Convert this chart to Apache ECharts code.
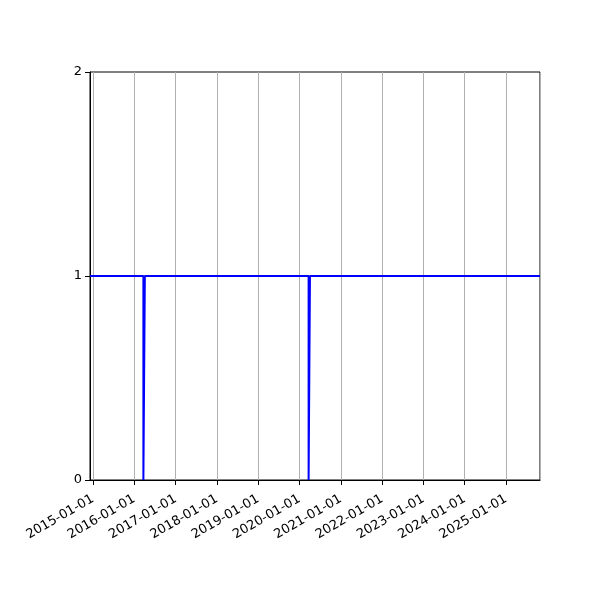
<!DOCTYPE html>
<html lang="en">
<head>
    <meta charset="UTF-8">
    <title></title>
    <script src="https://cdn.jsdelivr.net/npm/echarts@6/dist/echarts.min.js"></script>
    <style>
        html, body { margin: 0; padding: 0; background: #fff; }
        #main { width: 600px; height: 600px; }
    </style>
</head>
<body>
    <div id="main"></div>
    <script type="text/javascript">
        // data
        var dates = ['2014-12-06', '2016-03-22', '2016-03-22', '2016-04-04', '2016-04-04',
                     '2020-03-22', '2020-03-22', '2020-04-03', '2020-04-03', '2025-10-28'];
        var values = [1, 1, 0, 0, 1, 1, 0, 0, 1, 1];
        var yTicks = [0, 1, 2];
        var xMin = '2014-12-06';
        var xMax = '2025-10-28';

        var points = dates.map(function (d, i) { return [d, values[i]]; });

        var myChart = echarts.init(document.getElementById('main'));
        var option = {
            animation: false,
            grid: {
                left: 90, right: 60, top: 72, bottom: 120,
                show: true, borderColor: '#000', borderWidth: 1
            },
            xAxis: {
                type: 'time',
                min: xMin,
                max: xMax,
                splitNumber: 11,
                axisLine: { lineStyle: { color: '#000', width: 1 } },
                axisTick: { show: true, length: 5, lineStyle: { color: '#000' } },
                minorTick: { show: false },
                splitLine: { show: true, lineStyle: { color: '#b0b0b0', width: 1 } },
                axisLabel: {
                    rotate: 30,
                    margin: 18,
                    color: '#000',
                    fontSize: 13,
                    fontFamily: 'DejaVu Sans',
                    showMinLabel: false,
                    showMaxLabel: false,
                    formatter: '{yyyy}-{MM}-{dd}'
                }
            },
            yAxis: {
                type: 'value',
                min: yTicks[0],
                max: yTicks[yTicks.length - 1],
                interval: 1,
                axisLine: { show: true, lineStyle: { color: '#000', width: 1 } },
                axisTick: { show: true, length: 5, lineStyle: { color: '#000' } },
                splitLine: { show: false },
                axisLabel: { color: '#000', fontSize: 13, fontFamily: 'DejaVu Sans', margin: 8 }
            },
            series: [{
                type: 'line',
                data: points,
                symbol: 'none',
                lineStyle: { color: '#0000ff', width: 2 },
                itemStyle: { color: '#0000ff' }
            }]
        };
        myChart.setOption(option);
    </script>
</body>
</html>
